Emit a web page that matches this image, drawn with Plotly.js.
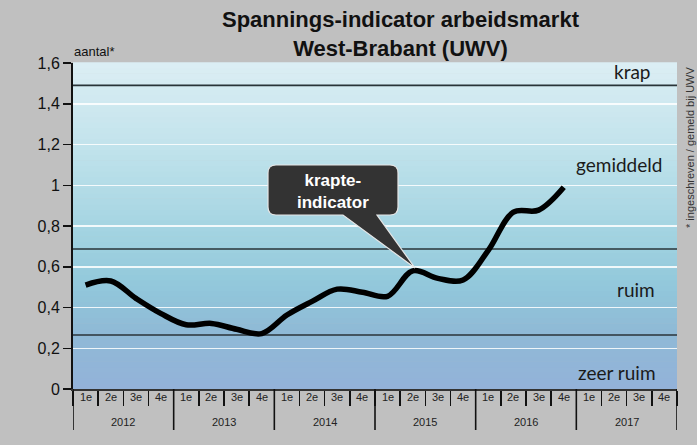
<!DOCTYPE html>
<html>
<head>
<meta charset="utf-8">
<script src="https://cdn.plot.ly/plotly-3.0.1.min.js"></script>
<style>html,body{margin:0;padding:0;background:#c0c0c0;}#chart{width:697px;height:445px;}</style>
</head>
<body>
<div id="chart"></div>
<script>
// ---- data ----
const years = ['2012', '2013', '2014', '2015', '2016', '2017'];
const quarters = ['1e', '2e', '3e', '4e'];
const values = [
  0.51, 0.53, 0.445, 0.37,    // 2012
  0.315, 0.322, 0.293, 0.272, // 2013
  0.363, 0.43, 0.49, 0.475,   // 2014
  0.455, 0.58, 0.543, 0.535,  // 2015
  0.68, 0.868, 0.878, 0.99,   // 2016
  null, null, null, null      // 2017
];
const thresholds = [1.49, 0.687, 0.265];
const zoneLabels = ['krap', 'gemiddeld', 'ruim', 'zeer ruim'];
const zoneLabelY = [1.556, 1.10, 0.486, 0.083];
const yTicks = [0, 0.2, 0.4, 0.6, 0.8, 1, 1.2, 1.4, 1.6];

// ---- categories ----
const cats = [], catQuarter = [];
years.forEach(y => quarters.forEach(q => { cats.push(y + ' ' + q); catQuarter.push(q); }));

// ---- geometry helpers (layout only) ----
const W = 697, H = 445, ML = 73, MR = 20, MT = 63, MB = 56;
const PW = W - ML - MR, PH = H - MT - MB;
const fx = px => (px - ML) / PW;
const fy = py => (H - MB - py) / PH;

// gradient background bands
const stops = [
  [0.0, [147, 178, 217]],
  [0.18, [143, 186, 214]],
  [0.32, [146, 200, 219]],
  [0.5, [165, 213, 226]],
  [0.75, [194, 227, 236]],
  [1.0, [220, 238, 244]]
];
function colAt(t) {
  for (let i = 0; i < stops.length - 1; i++) {
    const a = stops[i], b = stops[i + 1];
    if (t >= a[0] && t <= b[0]) {
      const k = (t - a[0]) / (b[0] - a[0]);
      const c = a[1].map((v, j) => Math.round(v + (b[1][j] - v) * k));
      return 'rgb(' + c.join(',') + ')';
    }
  }
  return 'rgb(' + stops[stops.length - 1][1].join(',') + ')';
}
const shapes = [];
const N = 60;
for (let i = 0; i < N; i++) {
  shapes.push({
    type: 'rect', xref: 'paper', yref: 'paper', layer: 'below',
    x0: 0, x1: 1, y0: i / N, y1: (i + 1) / N + 0.002,
    fillcolor: colAt((i + 0.5) / N), line: { width: 0 }
  });
}
thresholds.forEach(t => shapes.push({
  type: 'line', xref: 'paper', yref: 'y', x0: 0, x1: 1, y0: t, y1: t,
  layer: 'between', line: { color: '#2a3438', width: 1.6 }
}));

// year dividers below the axis
for (let k = 0; k <= years.length; k++) {
  shapes.push({
    type: 'line', xref: 'x', yref: 'paper',
    x0: k * quarters.length - 0.5, x1: k * quarters.length - 0.5,
    y0: 0, y1: fy(430), line: { color: '#111', width: 1.6 }
  });
}

// callout bubble
const bx0 = 268, bx1 = 398, by0 = 165, by1 = 215, r = 8;
const P = (x, y) => fx(x).toFixed(5) + ',' + fy(y).toFixed(5);
const calloutPath =
  'M' + P(bx0 + r, by0) + ' L' + P(bx1 - r, by0) + ' Q' + P(bx1, by0) + ' ' + P(bx1, by0 + r) +
  ' L' + P(bx1, by1 - r) + ' Q' + P(bx1, by1) + ' ' + P(bx1 - r, by1) +
  ' L' + P(377, by1) + ' L' + P(415, 268) + ' L' + P(343, by1) +
  ' L' + P(bx0 + r, by1) + ' Q' + P(bx0, by1) + ' ' + P(bx0, by1 - r) +
  ' L' + P(bx0, by0 + r) + ' Q' + P(bx0, by0) + ' ' + P(bx0 + r, by0) + ' Z';
shapes.push({
  type: 'path', xref: 'paper', yref: 'paper', layer: 'above', path: calloutPath,
  fillcolor: '#333333', line: { color: '#e6e6e6', width: 1.2 }
});

const FONT = '"Liberation Sans", Arial, sans-serif';
const zoneX = [632, 619, 636, 617];
const annotations = zoneLabels.map((t, i) => ({
  text: t, xref: 'paper', yref: 'y', x: fx(zoneX[i]), y: zoneLabelY[i],
  xanchor: 'center', yanchor: 'middle', showarrow: false,
  font: { family: 'Lato, "Open Sans", sans-serif', size: 19, color: '#1a1a1a' }
}));
annotations.push({
  text: '<b>Spannings-indicator arbeidsmarkt<br>West-Brabant (UWV)</b>',
  xref: 'paper', yref: 'paper', x: fx(401), y: fy(34),
  xanchor: 'center', yanchor: 'middle', showarrow: false,
  font: { family: FONT, size: 22, color: '#111' }
});
annotations.push({
  text: '<b>krapte-<br>indicator</b>', xref: 'paper', yref: 'paper',
  x: fx(333), y: fy(191), xanchor: 'center', yanchor: 'middle', showarrow: false,
  font: { family: FONT, size: 17, color: '#ffffff' }
});
annotations.push({
  text: 'aantal*', xref: 'paper', yref: 'paper', x: fx(72), y: fy(52),
  xanchor: 'left', yanchor: 'middle', showarrow: false,
  font: { family: FONT, size: 13, color: '#111' }
});
annotations.push({
  text: '* ingeschreven / gemeld bij UWV', xref: 'paper', yref: 'paper',
  x: fx(690), y: fy(148), xanchor: 'center', yanchor: 'middle', textangle: -90,
  showarrow: false,
  font: { family: FONT, size: 11, color: '#333' }
});
// quarter labels
cats.forEach((c, i) => annotations.push({
  text: catQuarter[i], xref: 'x', yref: 'paper', x: i, y: fy(397),
  xanchor: 'center', yanchor: 'middle', showarrow: false,
  font: { family: FONT, size: 11, color: '#222' }
}));
// year labels
years.forEach((y, k) => annotations.push({
  text: y, xref: 'x', yref: 'paper', x: k * quarters.length + (quarters.length - 1) / 2,
  y: fy(422), xanchor: 'center', yanchor: 'middle', showarrow: false,
  font: { family: FONT, size: 11, color: '#222' }
}));

const trace = {
  type: 'scatter', mode: 'lines',
  x: cats, y: values,
  line: { color: '#000000', width: 5.5, shape: 'spline', smoothing: 1 },
  hoverinfo: 'skip', showlegend: false
};

const layout = {
  width: W, height: H,
  margin: { l: ML, r: MR, t: MT, b: MB },
  paper_bgcolor: '#c0c0c0', plot_bgcolor: '#c0c0c0',
  separators: ',.',
  xaxis: {
    type: 'category', categoryorder: 'array', categoryarray: cats,
    range: [-0.5, cats.length - 0.5],
    showticklabels: false, tickson: 'boundaries',
    showline: true, linecolor: '#333', linewidth: 1.5,
    ticks: 'outside', ticklen: 15, tickcolor: '#111', tickwidth: 1.5,
    showgrid: false, zeroline: false
  },
  yaxis: {
    range: [0, 1.6], tickvals: yTicks,
    showline: true, linecolor: '#111', linewidth: 2,
    ticks: 'outside', ticklen: 8, tickcolor: '#111', tickwidth: 1.5,
    showgrid: true, gridcolor: 'rgba(255,255,255,0.85)', gridwidth: 1.5,
    zeroline: false,
    tickfont: { family: FONT, size: 16, color: '#111' }
  },
  shapes: shapes,
  annotations: annotations
};

Plotly.newPlot('chart', [trace], layout, { displayModeBar: false, staticPlot: true });
</script>
</body>
</html>
